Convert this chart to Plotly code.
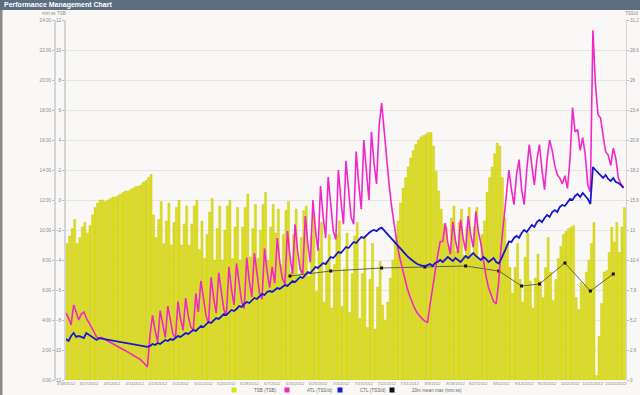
import plotly.graph_objects as go
import pandas as pd

START = "2012-03-18"

tsb = [
    -2.9,-2.4,-1.9,-1.3,-2.9,-2.5,-1.8,-1.5,-2.2,-1.7,-1.0,-0.5,-0.2,0.0,
    0.0,-0.1,0.0,0.1,0.2,0.2,0.3,0.4,0.5,0.6,0.6,0.7,0.8,0.9,0.9,1.0,1.2,1.3,1.5,1.7,
    -1.0,-2.5,-1.3,-0.1,-2.9,-1.4,-0.2,-3.0,-1.5,-0.5,0.0,-3.0,-1.6,-0.4,-3.0,-1.6,-0.4,0.0,-3.3,-1.4,
    -3.9,-2.3,-0.8,0.1,-4.0,-1.9,-0.4,-4.0,-2.0,-0.4,0.0,-3.9,-1.8,-0.5,-4.0,-1.8,-0.5,0.4,-3.8,-1.9,-0.3,-3.9,-2.0,-0.3,0.5,-4.0,-1.8,-0.3,
    -2.2,-0.6,-4.3,-2.3,-0.7,-0.1,-4.8,-2.3,-0.6,-5.0,-2.5,-0.7,-0.4,-5.1,-2.4,-0.9,-6.1,-3.2,-1.5,-6.8,
    -4.1,-2.3,-7.2,-4.3,-2.3,-1.4,-7.1,-4.6,-2.2,-7.5,-4.9,-2.4,-1.5,-7.9,-4.9,-2.4,-8.5,-5.3,-2.9,-8.6,
    -5.8,-4.1,-7.0,-8.0,-6.8,-5.2,-4.0,-2.7,-1.4,-0.2,0.8,1.5,2.2,2.8,3.3,3.7,4.0,4.2,4.3,4.4,4.5,4.5,
    3.6,1.9,0.6,-0.6,-1.6,
    -1.8,-3.1,-1.2,-0.4,-3.4,-1.5,-0.6,-3.7,-1.8,-0.5,-3.6,-1.8,-0.5,-3.9,-2.3,
    -1.4,0.5,1.5,2.2,3.1,3.8,3.6,1.5,
    -1.2,-2.9,-4.5,-6.2,-4.5,-2.9,-5.3,-6.8,-3.8,-2.2,-5.4,-7.2,-5.2,-3.6,-5.4,-6.5,-4.5,-2.5,-4.8,-6.7,-5.3,-3.9,
    -3.1,-2.3,-2.1,-1.9,-1.8,-1.7,-6.5,-7.3,-5.5,-5.7,-4.8,-4.0,-2.9,-1.5,-11.7,-9.1,-6.9,-4.8,-4.7,-3.5,-1.8,-2.8,-1.5,-3.5,-1.8,-0.5,
]

atl = [
    5.81,5.37,4.77,6.5,5.89,5.2,5.72,5.89,5.37,5.03,4.59,4.16,3.73,
    3.6,3.7,3.55,3.42,3.3,3.18,3.06,2.94,2.82,2.7,2.58,2.46,2.34,2.22,2.1,1.96,1.8,1.62,1.4,1.13,
    3.9,5.6,4.3,3.3,6.0,4.7,3.7,6.4,5.0,4.0,3.6,6.8,5.3,4.3,7.1,5.6,4.6,4.3,7.5,5.9,
    8.6,6.9,5.6,4.9,8.9,7.1,5.8,9.3,7.5,6.1,5.6,9.8,7.9,6.5,10.1,8.2,6.8,6.2,10.6,8.6,7.2,11.0,9.0,7.6,7.0,11.4,9.4,8.0,
    9.8,8.4,12.3,10.2,8.8,8.3,12.9,10.7,9.2,13.5,11.2,9.6,9.2,14.2,11.8,10.2,15.6,13.0,11.2,16.8,
    14.2,12.3,17.6,15.0,12.9,12.2,18.2,15.6,13.5,19.0,16.3,14.1,13.5,19.8,17.0,14.8,20.8,17.9,15.6,21.5,
    18.8,17.0,22.0,24.0,21.5,19.0,16.8,14.9,13.3,11.9,10.7,9.7,8.8,8.0,7.3,6.7,6.2,5.8,5.5,5.3,5.1,5.0,
    6.5,8.0,9.5,10.8,12.0,
    12.0,13.6,11.9,10.9,13.7,12.1,11.0,13.9,12.3,11.2,14.2,12.6,11.5,14.6,12.9,
    11.8,10.2,9.0,8.0,7.3,6.8,6.6,8.5,
    11.7,13.87,16.0,18.2,16.5,15.2,17.8,19.1,16.5,15.2,18.2,20.4,18.6,16.9,19.1,20.4,18.2,16.5,19.1,20.8,19.9,18.6,17.8,17.5,17.0,17.7,16.6,19.1,23.6,21.5,21.7,19.9,21.0,19.5,16.9,16.3,
    30.3,25.6,23.0,22.7,21.2,19.8,19.5,18.6,20.1,19.2,17.5,17.0,16.7,
]

ctl = [
    3.55,3.38,3.81,4.07,3.73,3.81,3.73,3.64,4.07,3.9,3.81,3.64,3.47,
    3.63,3.59,3.55,3.50,3.47,3.42,3.38,3.34,3.30,3.25,3.21,3.17,3.12,3.08,3.04,3.00,2.96,2.93,2.90,2.87,
    2.95,3.12,3.03,3.21,3.12,3.29,3.47,3.38,3.55,3.47,3.64,3.81,3.73,3.9,4.07,3.99,4.16,4.33,4.25,4.51,
    4.68,4.59,4.77,5.03,4.94,5.2,5.37,5.29,5.55,5.72,5.63,5.89,6.07,5.98,6.15,6.41,6.33,6.59,6.76,6.67,6.93,7.11,7.02,7.28,7.45,7.37,7.63,7.71,
    7.63,7.8,7.97,7.89,8.06,8.23,8.15,8.41,8.58,8.49,8.75,8.93,8.84,9.1,9.36,9.27,9.53,9.79,9.71,9.97,
    10.14,10.05,10.4,10.66,10.57,10.83,11.09,11.01,11.27,11.53,11.44,11.7,11.96,11.87,12.13,12.39,12.31,12.57,12.74,12.91,
    13.0,12.9,13.1,13.2,12.95,12.7,12.45,12.2,11.95,11.7,11.45,11.2,10.95,10.75,10.55,10.35,10.2,10.05,9.95,9.9,
    9.88,9.97,10.05,9.88,10.14,10.23,10.4,10.23,10.49,10.66,10.49,10.31,10.57,10.4,10.23,10.49,10.75,10.57,10.83,11.01,10.75,10.57,10.4,10.66,10.49,10.23,10.4,10.57,10.23,10.1,
    10.5,11.0,11.5,12.0,11.96,12.31,12.48,12.31,12.74,13.0,12.83,13.17,13.43,13.26,13.69,13.87,13.69,14.04,14.3,14.13,14.56,14.73,14.56,15.0,15.17,15.08,15.43,15.69,15.6,15.95,
    16.12,15.86,16.21,15.95,15.69,15.25,
    18.46,18.2,17.94,17.68,17.51,17.77,17.42,17.25,17.51,17.16,17.07,16.9,16.64,
]

mm_dates = ["2012-06-14","2012-06-30","2012-07-20","2012-08-06","2012-08-22","2012-09-04",
            "2012-09-13","2012-09-20","2012-09-30","2012-10-10","2012-10-19"]
mm_secs = [416, 436, 448, 452, 456, 436, 376, 384, 468, 356, 424]

legend_names = ["TSB (TSB)", "ATL (TSS/d)", "CTL (TSS/d)", "20m mean max (mm:ss)"]

tsb_ticks = list(range(-12, 13, 2))
mm_ticks = list(range(0, 1441, 120))
mm_labels = ["%d:00" % (s // 60) for s in mm_ticks]
tss_ticks = [round(i * 2.6, 1) for i in range(13)]
tss_labels = [("%g" % v) for v in tss_ticks]

dates = pd.date_range(START, periods=len(tsb), freq="D")
DAY = 86400000

W, H = 640, 395
L, R, T, B = 66, 626, 20, 380
xd = [L / W, R / W]
yd = [1 - B / H, 1 - T / H]

YEL = "#dede1e"
PINK = "#f028c8"
BLUE = "#1818cc"
BLACK = "#111111"
FONT = "Liberation Sans"

fig = go.Figure()
fig.add_trace(go.Bar(
    x=dates, y=[v - tsb_ticks[0] for v in tsb], base=tsb_ticks[0],
    offset=0, width=0.82 * DAY, yaxis="y",
    marker=dict(color=YEL, line=dict(color="#c4c40c", width=0.4)),
    showlegend=False, name=legend_names[0]))
fig.add_trace(go.Scatter(x=dates, y=atl, yaxis="y3", mode="lines",
                         line=dict(color=PINK, width=1.6), showlegend=False, name=legend_names[1]))
fig.add_trace(go.Scatter(x=dates, y=ctl, yaxis="y3", mode="lines",
                         line=dict(color=BLUE, width=1.8), showlegend=False, name=legend_names[2]))
fig.add_trace(go.Scatter(x=pd.to_datetime(mm_dates), y=mm_secs, yaxis="y2", mode="lines+markers",
                         line=dict(color="#555555", width=0.9),
                         marker=dict(color=BLACK, size=3, symbol="square"),
                         showlegend=False, name=legend_names[3]))

legend_ids = ["legend", "legend2", "legend3", "legend4"]
legend_sq_x = [239, 292, 345, 397]
for name, col, lid in zip(legend_names, [YEL, PINK, BLUE, BLACK], legend_ids):
    fig.add_trace(go.Scatter(x=[None], y=[None], mode="markers", name=name, yaxis="y",
                             legend=lid, marker=dict(symbol="square", size=5, color=col)))

tick_font = dict(family=FONT, size=4.6, color="#8a8a8a")
xtick_font = dict(family=FONT, size=4.2, color="#8a8a8a")
leg_font = dict(family=FONT, size=4.6, color="#666")

legends = {}
for lid, sx in zip(legend_ids, legend_sq_x):
    legends[lid] = dict(orientation="h", x=(sx - 25) / W, xanchor="left",
                        y=1 - 390 / H, yanchor="middle", font=leg_font,
                        bgcolor="rgba(0,0,0,0)", itemwidth=30, tracegroupgap=0)

fig.update_layout(
    width=W, height=H, margin=dict(l=0, r=0, t=0, b=0, pad=0, autoexpand=False),
    paper_bgcolor="#f9f8f6", plot_bgcolor="#f9f8f6",
    bargap=0.15,
    font=dict(family=FONT, size=5, color="#777"),
    xaxis=dict(domain=xd, anchor="y", type="date",
               range=[dates[0], dates[0] + pd.Timedelta(days=220)],
               tick0=START, dtick=9 * DAY, tickformat="%-m/%-d/%Y", tickangle=0,
               showgrid=False, zeroline=False, ticks="", ticklen=0,
               tickfont=xtick_font, showline=False),
    yaxis=dict(domain=yd, anchor="x", range=[-12, 12], tickvals=tsb_ticks,
               showgrid=True, gridcolor="#e6e6e4", gridwidth=1, zeroline=False,
               showline=True, linecolor="#d4d4d4", linewidth=2,
               ticks="outside", ticklen=2, tickcolor="#bbb", tickfont=tick_font),
    yaxis2=dict(overlaying="y", anchor="free", position=55 / W, side="left",
                range=[0, 1440], tickvals=mm_ticks, ticktext=mm_labels,
                showgrid=False, zeroline=False, showline=True, linecolor="#d4d4d4", linewidth=2,
                ticks="outside", ticklen=2, tickcolor="#bbb", tickfont=tick_font),
    yaxis3=dict(overlaying="y", anchor="x", side="right", range=[0, 31.2],
                tickvals=tss_ticks, ticktext=tss_labels,
                showgrid=False, zeroline=False, showline=True, linecolor="#d4d4d4", linewidth=1,
                ticks="outside", ticklen=2, tickcolor="#bbb", tickfont=tick_font),
    shapes=[
        dict(type="rect", xref="paper", yref="paper", x0=0, x1=1, y0=1 - 10 / H, y1=1,
             fillcolor="#5e6e82", line=dict(width=0), layer="above"),
        dict(type="rect", xref="paper", yref="paper", x0=0, x1=2.5 / W, y0=0, y1=1 - 10 / H,
             fillcolor="#8a8a8a", line=dict(width=0), layer="above"),
    ],
    annotations=[
        dict(text="<b>Performance Management Chart</b>", xref="paper", yref="paper",
             x=2 / W, y=1 - 5 / H, xanchor="left", yanchor="middle", showarrow=False,
             font=dict(family=FONT, size=7, color="#ffffff")),
        dict(text="mm:ss", xref="paper", yref="paper", x=49 / W, y=1 - 14 / H,
             xanchor="center", yanchor="middle", showarrow=False, font=tick_font),
        dict(text="TSB", xref="paper", yref="paper", x=61 / W, y=1 - 14 / H,
             xanchor="center", yanchor="middle", showarrow=False, font=tick_font),
        dict(text="TSS/d", xref="paper", yref="paper", x=631 / W, y=1 - 14 / H,
             xanchor="center", yanchor="middle", showarrow=False, font=tick_font),
    ],
    **legends,
)

fig.write_html("out.html",
               config={"displayModeBar": False},
               post_script="var d=document.documentElement,b=document.body;"
                           "d.style.margin='0';b.style.margin='0';b.style.padding='0';"
                           "d.style.height='395px';b.style.height='395px';"
                           "d.style.overflow='hidden';b.style.overflow='hidden';")
